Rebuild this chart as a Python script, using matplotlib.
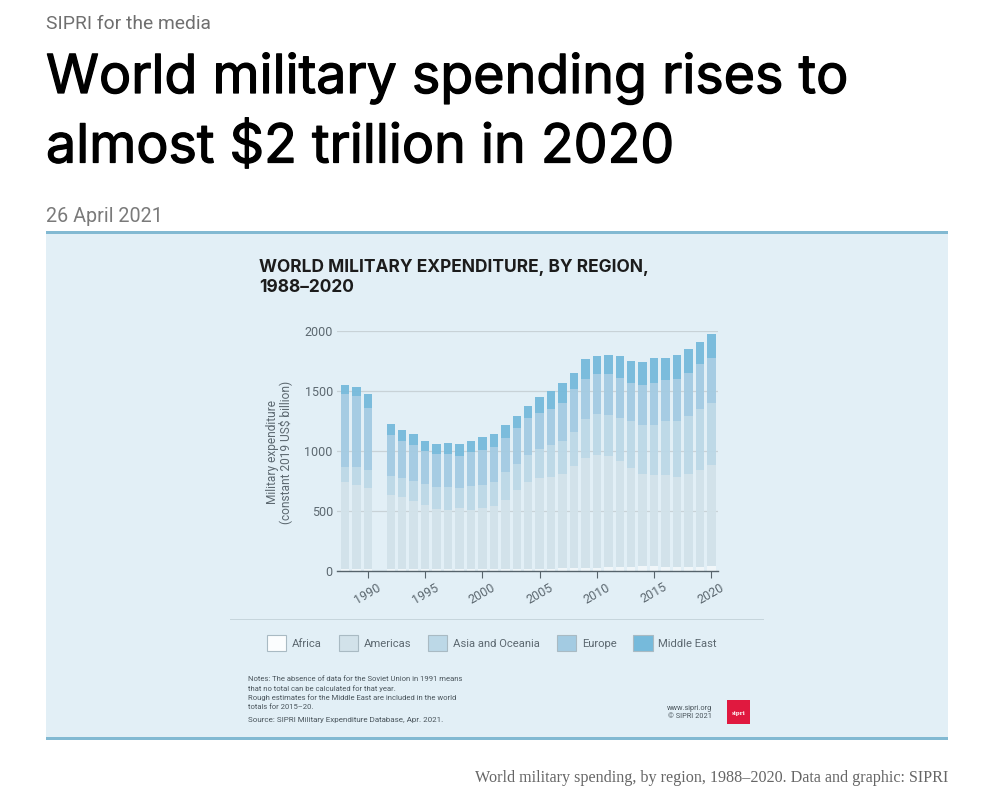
import numpy as np
import matplotlib
matplotlib.use("Agg")
import matplotlib.pyplot as plt
import matplotlib.patheffects as pe
from matplotlib.patches import Patch, Rectangle

W, H = 996, 800

years = [1988, 1989, 1990, 1992, 1993, 1994, 1995, 1996, 1997, 1998, 1999, 2000, 2001, 2002, 2003, 2004,
         2005, 2006, 2007, 2008, 2009, 2010, 2011, 2012, 2013, 2014, 2015, 2016, 2017, 2018, 2019, 2020]
africa = [20, 20, 18, 15, 14, 13, 13, 13, 13, 13, 13, 13, 15, 16, 17, 17,
          19, 20, 21, 23, 25, 28, 30, 32, 35, 38, 38, 36, 35, 35, 37, 43]
americas = [718, 699, 673, 620, 604, 572, 533, 502, 497, 511, 497, 516, 528, 577, 660, 721,
            755, 760, 790, 849, 916, 936, 925, 882, 823, 773, 759, 761, 745, 776, 807, 837]
asia = [128, 144, 153, 159, 154, 161, 178, 184, 186, 164, 195, 190, 198, 229, 217, 231,
        243, 267, 270, 287, 329, 345, 349, 362, 390, 409, 423, 451, 473, 479, 510, 521]
europe = [605, 594, 515, 342, 309, 304, 273, 279, 282, 273, 284, 292, 292, 287, 298, 307,
          301, 304, 320, 354, 334, 329, 334, 334, 315, 334, 348, 340, 343, 362, 367, 376]
middle_east = [78, 80, 120, 90, 97, 92, 84, 78, 89, 95, 92, 106, 106, 105, 103, 103,
               133, 153, 162, 133, 159, 153, 164, 181, 189, 187, 209, 189, 206, 200, 190, 195]

regions = ["Africa", "Americas", "Asia and Oceania", "Europe", "Middle East"]
colors = ["#f1f7fa", "#d2e2ea", "#bcd8e7", "#a3cbe2", "#76badb"]
series = [africa, americas, asia, europe, middle_east]

y_ticks = [0, 500, 1000, 1500, 2000]
x_ticks = [1990, 1995, 2000, 2005, 2010, 2015, 2020]

notes = [
    "Notes: The absence of data for the Soviet Union in 1991 means",
    "that no total can be calculated for that year.",
    "Rough estimates for the Middle East are included in the world",
    "totals for 2015\u201320.",
]
SANS = "Roboto"
GREY = "#5c6870"


def fx(x):
    return x / W


def fy(y):
    return 1 - y / H


def label(x, y, s, **kw):
    kw.setdefault("family", SANS)
    kw.setdefault("va", "center")
    return fig.text(fx(x), fy(y), s, **kw)


fig = plt.figure(figsize=(W / 100, H / 100), dpi=100, facecolor="white")

# panel behind the chart
fig.add_artist(Rectangle((fx(46), fy(739)), fx(902), fy(232) - fy(739), transform=fig.transFigure,
                         facecolor="#e2eff6", edgecolor="none", zorder=-5))
for y in (232.5, 738):
    fig.add_artist(Rectangle((fx(46), fy(y + 1.5)), fx(902), 3 / H, transform=fig.transFigure,
                             facecolor="#82b9d2", edgecolor="none", zorder=-4))

# page header, Inter only comes in regular here so thicken it with a stroke
heavy = [pe.withStroke(linewidth=0.9, foreground="black")]
label(46, 24, "SIPRI for the media", color="#6f6f6f", fontsize=13.9)
label(46, 78, "World military spending rises to", color="black", fontsize=38.7, family="Inter", path_effects=heavy)
label(46, 148, "almost $2 trillion in 2020", color="black", fontsize=38.7, family="Inter", path_effects=heavy)
label(46, 216, "26 April 2021", color="#7a7a7a", fontsize=14.2)

# chart title
label(259, 268, "WORLD MILITARY EXPENDITURE, BY REGION,", color="#1c1c1c", fontsize=12.5, weight="bold", family="Inter")
label(259, 288, "1988\u20132020", color="#1c1c1c", fontsize=12.5, weight="bold", family="Inter")

ax = fig.add_axes([fx(337), fy(571), fx(718 - 337), fy(331) - fy(571)])
ax.patch.set_alpha(0)
bottom = np.zeros(len(years))
for values, color, name in zip(series, colors, regions):
    ax.bar(years, values, width=0.74, bottom=bottom, color=color, alpha=0.95, zorder=2, label=name)
    bottom = bottom + np.array(values)

ax.set_xlim(1987.3, 2020.58)
ax.set_ylim(0, 2000)
ax.set_yticks(y_ticks)
ax.set_xticks(x_ticks)
ax.grid(axis="y", color="#c8d2d7", linewidth=0.9, zorder=1)
ax.set_axisbelow(True)
for side in ("top", "left", "right"):
    ax.spines[side].set_visible(False)
ax.spines["bottom"].set_color("#56636b")
ax.spines["bottom"].set_linewidth(1)
ax.tick_params(axis="y", length=0, pad=3, labelsize=9, labelcolor=GREY)
ax.tick_params(axis="x", length=5, width=0.8, color="#56636b", pad=2, labelsize=9, labelcolor=GREY)
for t in ax.get_xticklabels() + ax.get_yticklabels():
    t.set_family(SANS)
for t in ax.get_xticklabels():
    t.set_rotation(30)

label(279, 452, "Military expenditure\n(constant 2019 US$ billion)", color=GREY, fontsize=8.6, rotation=90,
      ha="center", linespacing=1.0)

# divider and legend
fig.add_artist(Rectangle((fx(230), fy(619.5)), fx(534), 1 / H, transform=fig.transFigure,
                         facecolor="#c6d5dc", edgecolor="none"))
handles = [Patch(facecolor=c, edgecolor="#a9bac3", linewidth=0.8, label=r) for c, r in zip(colors, regions)]
handles[0].set_facecolor("#fbfdfe")
fig.legend(handles=handles, loc="center left", bbox_to_anchor=(fx(267), fy(643)), bbox_transform=fig.transFigure,
           ncols=5, frameon=False, borderpad=0, borderaxespad=0, handlelength=1.72, handleheight=1.72,
           handletextpad=0.5, columnspacing=1.5, labelcolor=GREY, prop={"family": SANS, "size": 8.1})

# notes and source
for y, line in zip((679, 689, 698, 707), notes):
    label(248, y, line, color="#4a555c", fontsize=5.5)
label(248, 720, "Source: SIPRI Military Expenditure Database, Apr. 2021.", color="#4a555c", fontsize=5.8)
label(712, 708, "www.sipri.org", color="#4a555c", fontsize=5.3, ha="right")
label(712, 717, "\u00a9 SIPRI 2021", color="#4a555c", fontsize=5.3, ha="right")
fig.add_artist(Rectangle((fx(727), fy(724)), fx(23), 24 / H, transform=fig.transFigure,
                         facecolor="#e0193f", edgecolor="none"))
label(738.5, 713, "sipri", color="white", fontsize=5, ha="center", weight="bold", family="Liberation Serif")

# caption
label(948, 778, "World military spending, by region, 1988\u20132020. Data and graphic: SIPRI", color="#666666",
      fontsize=11.6, ha="right", family="Liberation Serif")

fig.savefig("out.png", dpi=100)
